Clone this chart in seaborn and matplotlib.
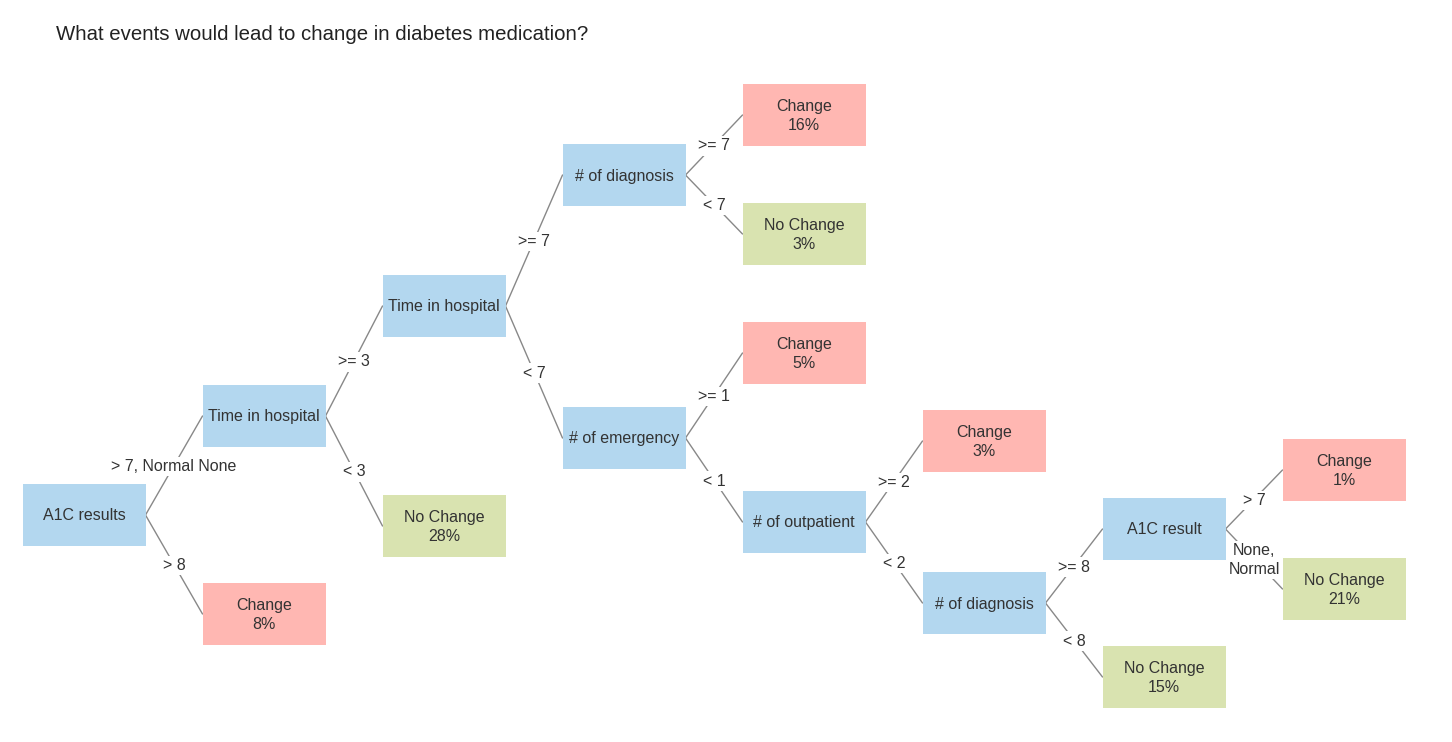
import pandas as pd
import matplotlib.pyplot as plt
import seaborn as sns
from matplotlib.patches import Rectangle

# tree data
node_names = ["A1C results", "Time in hospital", "Change", "Time in hospital", "No Change",
              "# of diagnosis", "# of emergency", "Change", "No Change", "Change",
              "# of outpatient", "Change", "# of diagnosis", "A1C result", "No Change",
              "Change", "No Change"]
node_parent = [-1, 0, 0, 1, 1, 3, 3, 5, 5, 6, 6, 10, 10, 12, 12, 13, 13]
node_pct = [None, None, 8, None, 28, None, None, 16, 3, 5, None, 3, None, None, 15, 1, 21]
edge_labels = [None, "> 7, Normal None", "> 8", ">= 3", "< 3", ">= 7", "< 7", ">= 7", "< 7",
               ">= 1", "< 1", ">= 2", "< 2", ">= 8", "< 8", "> 7", "None,\nNormal"]

# layout (pixel space)
col_x0, col_step = 84, 180
row_y = [515, 416, 614, 306, 526, 175, 438, 115, 234, 353, 522, 441, 603, 529, 677, 470, 589]
box_w, box_h = 123, 62

colors = {"decision": "#b3d7ef", "Change": "#ffb7b2", "No Change": "#d9e3b0"}

depth = []
for i, p in enumerate(node_parent):
    depth.append(0 if p < 0 else depth[p] + 1)
cx = [col_x0 + d * col_step for d in depth]

sns.set_theme(style="white")
plt.rcParams['font.family'] = ['Liberation Sans', 'DejaVu Sans']

fig = plt.figure(figsize=(14.52, 7.42), dpi=100)
ax = fig.add_axes([0, 0, 1, 1])

# edges
rows = []
for i, p in enumerate(node_parent):
    if p < 0:
        continue
    rows.append({"edge": i, "x": cx[p] + box_w / 2, "y": row_y[p]})
    rows.append({"edge": i, "x": cx[i] - box_w / 2, "y": row_y[i]})
edges = pd.DataFrame(rows)
sns.lineplot(data=edges, x="x", y="y", units="edge", estimator=None, sort=False,
             color="#888888", linewidth=1, ax=ax, legend=False)

for i, p in enumerate(node_parent):
    if p < 0:
        continue
    mx = (cx[p] + box_w / 2 + cx[i] - box_w / 2) / 2
    my = (row_y[p] + row_y[i]) / 2
    ax.text(mx, my + 1, edge_labels[i], ha="center", va="center", fontsize=11.5, color="#333333",
            linespacing=1.3, bbox=dict(facecolor="white", edgecolor="none", pad=1.5), zorder=3)

# boxes
for i, name in enumerate(node_names):
    kind = name if node_pct[i] is not None else "decision"
    ax.add_patch(Rectangle((cx[i] - box_w / 2, row_y[i] - box_h / 2), box_w, box_h,
                           facecolor=colors[kind], edgecolor="none", zorder=2))
    label = name if node_pct[i] is None else f"{name}\n{node_pct[i]}%"
    ax.text(cx[i], row_y[i] + 1, label, ha="center", va="center", fontsize=11.5,
            color="#333333", linespacing=1.3, zorder=4)

ax.text(56, 34, "What events would lead to change in diabetes medication?", ha="left",
        va="center", fontsize=14.7, color="#222222")

ax.set_xlim(0, 1452)
ax.set_ylim(742, 0)
ax.axis("off")
fig.savefig("out.png", dpi=100)
